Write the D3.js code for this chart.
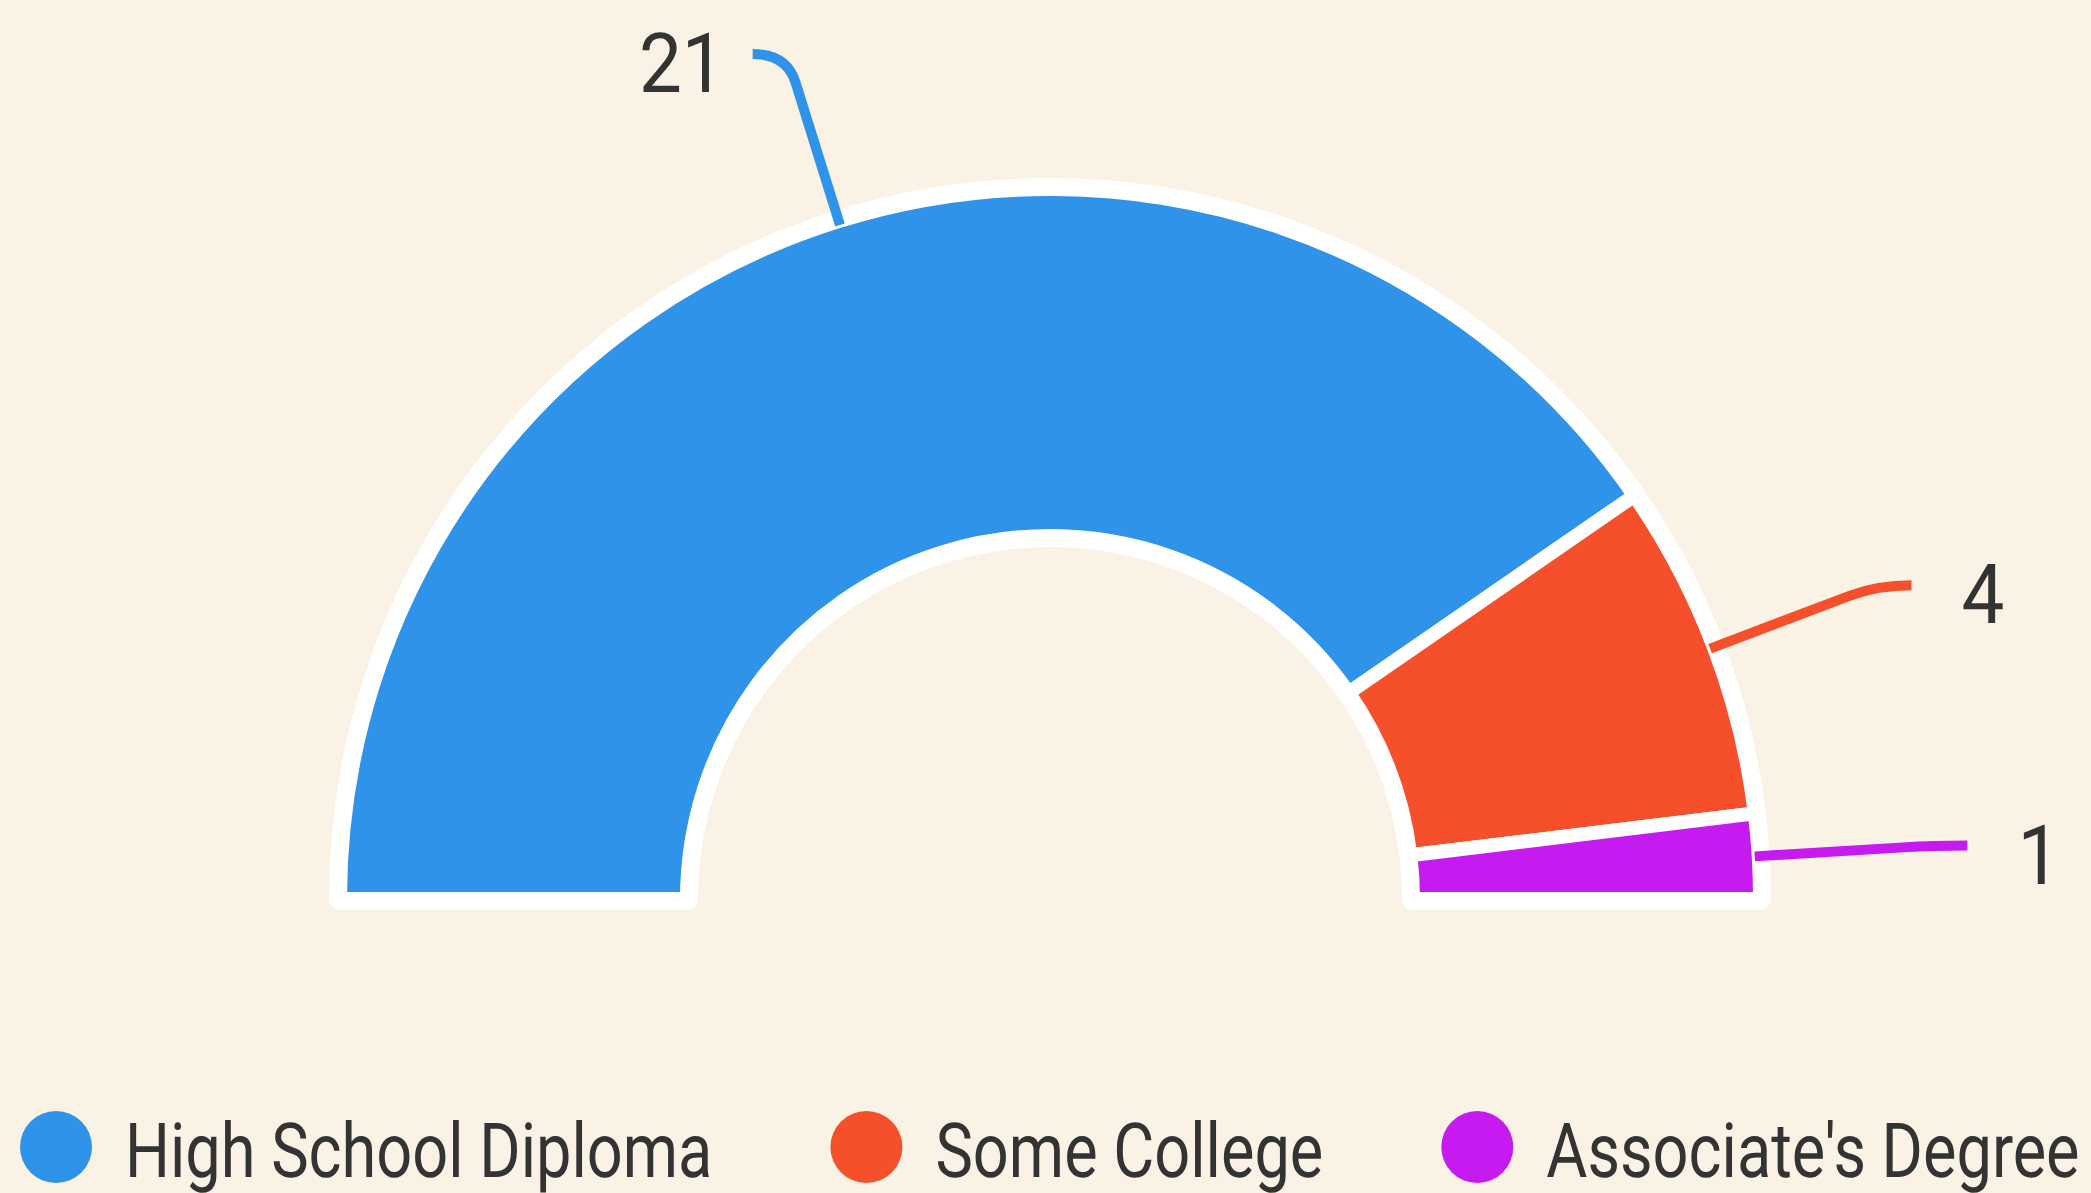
<!DOCTYPE html>
<html>
<head>
<meta charset="utf-8">
<script src="https://cdn.jsdelivr.net/npm/d3@7"></script>
<style>
  html, body { margin: 0; padding: 0; background: #faf2e4; overflow: hidden; }
  svg { display: block; font-family: Roboto, "Noto Sans", sans-serif; text-rendering: geometricPrecision; }
</style>
</head>
<body>
<div id="chart"></div>
<script>
const categories = ["High School Diploma", "Some College", "Associate's Degree"];
const values = [21, 4, 1];
const colors = ["#2f94e9", "#f5502b", "#c51af0"];

const width = 2091, height = 1193;
const cx = 1050, cy = 899;
const outerR = 710, innerR = 363;
const squeeze = 0.83;      // condensed look of the legend font
const labelSqueeze = 0.92; // value labels

const svg = d3.select("#chart").append("svg")
  .attr("width", width)
  .attr("height", height);

svg.append("rect").attr("width", width).attr("height", height).attr("fill", "#faf2e4");

const data = categories.map((c, i) => ({ name: c, value: values[i], color: colors[i] }));

const pie = d3.pie()
  .value(d => d.value)
  .sort(null)
  .startAngle(-Math.PI / 2)
  .endAngle(Math.PI / 2);

const arcs = pie(data);
const arc = d3.arc().innerRadius(innerR).outerRadius(outerR);

const g = svg.append("g").attr("transform", "translate(" + cx + "," + cy + ")");

// white border under the slices
g.append("g").selectAll("path")
  .data(arcs)
  .enter().append("path")
  .attr("d", arc)
  .attr("fill", "#fff")
  .attr("stroke", "#fff")
  .attr("stroke-width", 22)
  .attr("stroke-linejoin", "round");

g.append("g").selectAll("path")
  .data(arcs)
  .enter().append("path")
  .attr("d", arc)
  .attr("fill", d => d.data.color)
  .attr("stroke", "#fff")
  .attr("stroke-width", 14)
  .attr("stroke-linejoin", "round");

// leader lines + value labels
const len1 = 175, len2 = 34;
function pt(a, r) { return [Math.sin(a) * r, -Math.cos(a) * r]; }

arcs.forEach(d => {
  const a = (d.startAngle + d.endAngle) / 2;
  const side = Math.sin(a) >= 0 ? 1 : -1;
  const p0 = pt(a, outerR - 4);
  const p1 = pt(a, outerR + len1);
  const pA = pt(a, outerR + len1 - 30);
  const p2 = [p1[0] + side * len2, p1[1]];
  g.append("path")
    .attr("d", "M" + p0 + "L" + pA + "Q" + p1 + " " + p2)
    .attr("fill", "none")
    .attr("stroke", d.data.color)
    .attr("stroke-width", 10);
  const tx = p2[0] + (side > 0 ? 50 : -28);
  g.append("text")
    .attr("transform", "translate(" + tx + "," + (p2[1] + 38) + ") scale(" + labelSqueeze + ",1)")
    .attr("text-anchor", side > 0 ? "start" : "end")
    .attr("font-size", 83)
    .attr("fill", "#333")
    .text(d.data.value);
});

// legend
const legend = svg.append("g").attr("transform", "translate(0,1147)");
let lx = 56;
data.forEach(d => {
  const item = legend.append("g");
  item.append("circle")
    .attr("cx", lx).attr("cy", 0).attr("r", 36)
    .attr("fill", d.color);
  const t = item.append("text")
    .attr("transform", "translate(" + (lx + 69) + ",30) scale(" + squeeze + ",1)")
    .attr("font-size", 76)
    .attr("fill", "#333")
    .text(d.name);
  const w = t.node().getComputedTextLength() * squeeze;
  lx = lx + 69 + w + 154;
});
</script>
</body>
</html>
